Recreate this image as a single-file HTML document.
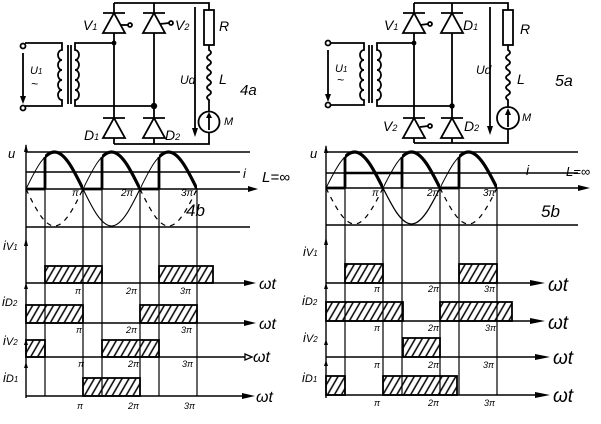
<!DOCTYPE html>
<html><head><meta charset="utf-8"><style>
html,body{margin:0;padding:0;background:#fff;}
svg{display:block;}
text{font-family:"Liberation Sans",sans-serif;font-style:italic;fill:#000;}
</style></head><body>
<svg width="601" height="424" viewBox="0 0 601 424" xmlns="http://www.w3.org/2000/svg">
<defs>
<pattern id="h" patternUnits="userSpaceOnUse" width="6" height="10" patternTransform="rotate(30)">
<line x1="1" y1="0" x2="1" y2="10" stroke="#000" stroke-width="1.5"/>
</pattern>
<clipPath id="cl"><rect x="45" y="140" width="38" height="55"/><rect x="102" y="140" width="38" height="55"/><rect x="159" y="140" width="38" height="55"/></clipPath>
<clipPath id="cr"><rect x="345" y="140" width="38" height="55"/><rect x="402" y="140" width="38" height="55"/><rect x="459" y="140" width="38" height="55"/></clipPath>
</defs>
<g fill="none" stroke="#000" stroke-width="1.8">
<!-- LEFT CIRCUIT -->
<circle cx="23" cy="46" r="2.5"/><circle cx="23" cy="108" r="2.5"/>
<path d="M25,43 L62,43 L62,50 a4,5 0 0 0 0,10 a4,5 0 0 0 0,10 a4,5 0 0 0 0,10 a4,5 0 0 0 0,10 a4,5 0 0 0 0,10 L62,106 L25,106"/>
<line x1="68" y1="45" x2="68" y2="104"/><line x1="71" y1="45" x2="71" y2="104"/>
<path d="M114,43 L75,43 L75,50 a4,5 0 0 1 0,10 a4,5 0 0 1 0,10 a4,5 0 0 1 0,10 a4,5 0 0 1 0,10 a4,5 0 0 1 0,10 L75,106 L154,106"/>
<line x1="23" y1="53" x2="23" y2="98"/>
<path d="M114,3 L209,3 L209,10"/>
<line x1="114" y1="3" x2="114" y2="144"/><line x1="154" y1="3" x2="154" y2="144"/>
<line x1="103" y1="13" x2="125" y2="13"/><line x1="143" y1="13" x2="165" y2="13"/>
<line x1="103" y1="118" x2="125" y2="118"/><line x1="143" y1="118" x2="165" y2="118"/>
<polygon points="103,33 125,33 114,13" fill="#fff"/><polygon points="143,33 165,33 154,13" fill="#fff"/>
<polygon points="103,138 125,138 114,118" fill="#fff"/><polygon points="143,138 165,138 154,118" fill="#fff"/>
<line x1="120" y1="25" x2="128" y2="25"/><circle cx="130" cy="25" r="2"/>
<line x1="160" y1="24" x2="169" y2="23"/><circle cx="171" cy="23" r="2"/>
<path d="M114,144 L209,144 L209,132.5"/>
<rect x="204" y="10" width="10" height="35"/>
<path d="M209,45 L209,50 q4,2.5 0,5 q-4,2.5 0,5 q4,2.5 0,5 q-4,2.5 0,5 q4,2.5 0,5 q-4,2.5 0,5 q4,2.5 0,5 q-4,2.5 0,5 q4,2.5 0,5 q-4,2.5 0,5 L209,111.5"/>
<circle cx="209" cy="122" r="10.5"/>
<line x1="209" y1="130" x2="209" y2="116"/>
<line x1="195" y1="7" x2="195" y2="130"/>
<!-- RIGHT CIRCUIT -->
<circle cx="328" cy="43" r="2.5"/><circle cx="328" cy="105" r="2.5"/>
<path d="M330,43 L364,43 L364,50 a4,5 0 0 0 0,10 a4,5 0 0 0 0,10 a4,5 0 0 0 0,10 a4,5 0 0 0 0,10 a4,5 0 0 0 0,10 L364,105 L330,105"/>
<line x1="369" y1="45" x2="369" y2="103"/><line x1="372" y1="45" x2="372" y2="103"/>
<path d="M414,43 L377,43 L377,50 a4,5 0 0 1 0,10 a4,5 0 0 1 0,10 a4,5 0 0 1 0,10 a4,5 0 0 1 0,10 a4,5 0 0 1 0,10 L377,106 L452,106"/>
<line x1="328" y1="50" x2="328" y2="96"/>
<path d="M414,3 L508,3 L508,10"/>
<line x1="414" y1="3" x2="414" y2="143"/><line x1="452" y1="3" x2="452" y2="143"/>
<line x1="403" y1="13" x2="425" y2="13"/><line x1="441" y1="13" x2="463" y2="13"/>
<line x1="403" y1="118" x2="425" y2="118"/><line x1="441" y1="118" x2="463" y2="118"/>
<polygon points="403,33 425,33 414,13" fill="#fff"/><polygon points="441,33 463,33 452,13" fill="#fff"/>
<polygon points="403,138 425,138 414,118" fill="#fff"/><polygon points="441,138 463,138 452,118" fill="#fff"/>
<line x1="420" y1="25" x2="428" y2="24"/><circle cx="430" cy="24" r="2"/>
<line x1="420" y1="127" x2="428" y2="126"/><circle cx="430" cy="126" r="2"/>
<path d="M414,143 L508,143 L508,129"/>
<rect x="503" y="10" width="10" height="35"/>
<path d="M508,45 L508,50 q4,2.5 0,5 q-4,2.5 0,5 q4,2.5 0,5 q-4,2.5 0,5 q4,2.5 0,5 q-4,2.5 0,5 q4,2.5 0,5 q-4,2.5 0,5 q4,2.5 0,5 q-4,2.5 0,5 L508,107"/>
<circle cx="508" cy="118" r="11"/>
<line x1="508" y1="127" x2="508" y2="112"/>
<line x1="490" y1="7" x2="490" y2="128"/>
</g>
<g fill="#000" stroke="none">
<circle cx="114" cy="43" r="2.4"/><circle cx="154" cy="106" r="3.2"/>
<circle cx="414" cy="43" r="2.4"/><circle cx="452" cy="106" r="2.7"/>
<polygon points="20,96 26,96 23,104"/><polygon points="325,94 331,94 328,102"/>
<polygon points="192,128 198,128 195,137"/><polygon points="487,126 493,126 490,135"/>
<polygon points="206,118 212,118 209,112"/><polygon points="505,115 511,115 508,108"/>
</g>
<!-- circuit labels -->
<g font-size="14">
<text x="83" y="30">V<tspan font-size="9">1</tspan></text>
<text x="175" y="30">V<tspan font-size="9">2</tspan></text>
<text x="84" y="140">D<tspan font-size="9">1</tspan></text>
<text x="165" y="140">D<tspan font-size="9">2</tspan></text>
<text x="180" y="84" font-size="12">Ud</text>
<text x="219" y="31">R</text>
<text x="219" y="84">L</text>
<text x="240" y="95" font-size="15">4a</text>
<text x="224" y="125" font-size="11">M</text>
<text x="30" y="74" font-size="11">U<tspan font-size="8">1</tspan></text>
<text x="31" y="88" font-size="12">~</text>
<text x="384" y="30">V<tspan font-size="9">1</tspan></text>
<text x="463" y="30">D<tspan font-size="9">1</tspan></text>
<text x="383" y="131">V<tspan font-size="9">2</tspan></text>
<text x="464" y="131">D<tspan font-size="9">2</tspan></text>
<text x="476" y="74" font-size="12">Ud</text>
<text x="520" y="34">R</text>
<text x="517" y="84">L</text>
<text x="555" y="86" font-size="16">5a</text>
<text x="522" y="121" font-size="11">M</text>
<text x="335" y="72" font-size="11">U<tspan font-size="8">1</tspan></text>
<text x="337" y="84" font-size="12">~</text>
</g>
<!-- WAVEFORMS LEFT -->
<g fill="none" stroke="#000" stroke-width="1.4">
<line x1="26" y1="145" x2="26" y2="398"/>
<line x1="26" y1="152" x2="250" y2="152"/>
<line x1="26" y1="172" x2="240" y2="172"/>
<line x1="26" y1="189" x2="252" y2="189"/>
<line x1="26" y1="227" x2="250" y2="227"/>
<g stroke-width="1.2">
<line x1="45" y1="189" x2="45" y2="396"/><line x1="83" y1="189" x2="83" y2="396"/>
<line x1="102" y1="189" x2="102" y2="396"/><line x1="140" y1="189" x2="140" y2="396"/>
<line x1="159" y1="189" x2="159" y2="396"/><line x1="197" y1="189" x2="197" y2="396"/>
</g>
<path stroke-width="1" d="M26,189 C35.3,170.05 44.19,152 54.5,152 C64.81,152 73.7,170.05 83,189 C92.3,170.05 101.19,152 111.5,152 C121.81,152 130.7,170.05 140,189 C149.3,170.05 158.19,152 168.5,152 C178.81,152 187.7,170.05 197,189"/>
<path stroke-width="1.1" d="M83,189 C92.3,207.95 101.19,226 111.5,226 C121.81,226 130.7,207.95 140,189"/>
<path stroke-width="1.2" stroke-dasharray="5,5" d="M26,189 C35.3,207.95 44.19,226 54.5,226 C64.81,226 73.7,207.95 83,189 M140,189 C149.3,207.95 158.19,226 168.5,226 C178.81,226 187.7,207.95 197,189"/>
<path stroke-width="3.2" clip-path="url(#cl)" d="M26,189 C35.3,170.05 44.19,152 54.5,152 C64.81,152 73.7,170.05 83,189 C92.3,170.05 101.19,152 111.5,152 C121.81,152 130.7,170.05 140,189 C149.3,170.05 158.19,152 168.5,152 C178.81,152 187.7,170.05 197,189"/>
<g stroke-width="2.8"><line x1="45" y1="189" x2="45" y2="157"/><line x1="102" y1="189" x2="102" y2="157"/><line x1="159" y1="189" x2="159" y2="157"/>
<line x1="26" y1="189" x2="45" y2="189"/><line x1="83" y1="189" x2="102" y2="189"/><line x1="140" y1="189" x2="159" y2="189"/></g>
<line x1="26" y1="283" x2="250" y2="283"/>
<line x1="26" y1="323" x2="250" y2="323"/>
<line x1="26" y1="357" x2="245" y2="357"/>
<line x1="26" y1="396" x2="248" y2="396"/>
<g fill="url(#h)" stroke-width="1.8">
<rect x="45" y="266" width="57" height="17"/><rect x="159" y="266" width="54" height="17"/>
<rect x="26" y="305" width="57" height="18"/><rect x="140" y="305" width="57" height="18"/>
<rect x="26" y="340" width="19" height="17"/><rect x="102" y="340" width="57" height="17"/>
<rect x="83" y="378" width="57" height="18"/>
</g>
<polygon points="245,354 252,357 245,360" fill="#fff" stroke-width="1.3"/>
</g>
<g fill="#000">
<polygon points="24,152 28,152 26,144"/>
<polygon points="24,246 28,246 26,238"/>
<polygon points="24,289 28,289 26,283"/>
<polygon points="24,345 28,345 26,339"/>
<polygon points="24,368 28,368 26,362"/>
<polygon points="248,186 258,189 248,192"/>
<polygon points="244,280 256,283 244,286"/>
<polygon points="244,320 256,323 244,326"/>
<polygon points="242,393 255,396 242,399"/>
</g>
<g font-size="13">
<text x="8" y="158">u</text>
<text x="243" y="178">i</text>
<text x="262" y="182" font-size="15">L=∞</text>
<text x="72" y="196" font-size="10">π</text><text x="121" y="196" font-size="10">2π</text><text x="181" y="196" font-size="10">3π</text>
<text x="186" y="216" font-size="17">4b</text>
<text x="3" y="250">i<tspan font-size="11">V</tspan><tspan font-size="8">1</tspan></text>
<text x="2" y="306">i<tspan font-size="11">D</tspan><tspan font-size="8">2</tspan></text>
<text x="3" y="345">i<tspan font-size="11">V</tspan><tspan font-size="8">2</tspan></text>
<text x="3" y="382">i<tspan font-size="11">D</tspan><tspan font-size="8">1</tspan></text>
<g font-size="9"><text x="75" y="294">π</text><text x="126" y="294">2π</text><text x="180" y="294">3π</text>
<text x="76" y="333">π</text><text x="126" y="333">2π</text><text x="181" y="333">3π</text>
<text x="78" y="367">π</text><text x="128" y="367">2π</text><text x="182" y="367">3π</text>
<text x="77" y="409">π</text><text x="128" y="409">2π</text><text x="184" y="409">3π</text></g>
<g font-size="16"><text x="259" y="289">ωt</text><text x="259" y="329">ωt</text><text x="253" y="362">ωt</text><text x="256" y="402">ωt</text></g>
</g>
<!-- WAVEFORMS RIGHT -->
<g fill="none" stroke="#000" stroke-width="1.4">
<line x1="326" y1="146" x2="326" y2="398"/>
<line x1="326" y1="152" x2="578" y2="152"/>
<line x1="326" y1="173" x2="578" y2="173"/>
<line x1="326" y1="188" x2="582" y2="188"/>
<line x1="326" y1="225" x2="578" y2="225"/>
<line x1="345" y1="173" x2="402" y2="173" stroke-width="2.4"/>
<g stroke-width="1.2">
<line x1="345" y1="188" x2="345" y2="395"/><line x1="383" y1="188" x2="383" y2="395"/>
<line x1="402" y1="188" x2="402" y2="395"/><line x1="440" y1="188" x2="440" y2="395"/>
<line x1="459" y1="188" x2="459" y2="395"/><line x1="497" y1="188" x2="497" y2="395"/>
</g>
<path stroke-width="1" d="M326,188 C335.3,169.56 344.19,152 354.5,152 C364.81,152 373.7,169.56 383,188 C392.3,169.56 401.19,152 411.5,152 C421.81,152 430.7,169.56 440,188 C449.3,169.56 458.19,152 468.5,152 C478.81,152 487.7,169.56 497,188"/>
<path stroke-width="1.3" d="M383,188 C392.3,206.44 401.19,224 411.5,224 C421.81,224 430.7,206.44 440,188"/>
<path stroke-width="1.2" stroke-dasharray="5,5" d="M326,188 C335.3,206.44 344.19,224 354.5,224 C364.81,224 373.7,206.44 383,188 M440,188 C449.3,206.44 458.19,224 468.5,224 C478.81,224 487.7,206.44 497,188"/>
<path stroke-width="3.2" clip-path="url(#cr)" d="M326,188 C335.3,169.56 344.19,152 354.5,152 C364.81,152 373.7,169.56 383,188 C392.3,169.56 401.19,152 411.5,152 C421.81,152 430.7,169.56 440,188 C449.3,169.56 458.19,152 468.5,152 C478.81,152 487.7,169.56 497,188"/>
<g stroke-width="2.8"><line x1="345" y1="188" x2="345" y2="157"/><line x1="402" y1="188" x2="402" y2="157"/><line x1="459" y1="188" x2="459" y2="157"/>
<line x1="326" y1="188" x2="345" y2="188"/><line x1="440" y1="188" x2="459" y2="188"/></g>
<line x1="326" y1="283" x2="535" y2="283"/>
<line x1="326" y1="321" x2="535" y2="321"/>
<line x1="326" y1="357" x2="540" y2="357"/>
<line x1="326" y1="395" x2="540" y2="395"/>
<g fill="url(#h)" stroke-width="1.8">
<rect x="345" y="264" width="38" height="19"/><rect x="459" y="264" width="38" height="19"/>
<rect x="326" y="302" width="77" height="19"/><rect x="440" y="302" width="72" height="19"/>
<rect x="403" y="338" width="37" height="19"/>
<rect x="326" y="376" width="19" height="19"/><rect x="383" y="376" width="74" height="19"/>
</g>
</g>
<g fill="#000">
<polygon points="324,153 328,153 326,145"/>
<polygon points="324,245 328,245 326,237"/>
<polygon points="324,289 328,289 326,283"/>
<polygon points="324,345 328,345 326,339"/>
<polygon points="324,366 328,366 326,360"/>
<polygon points="578,185 590,188 578,191"/>
<polygon points="530,280 545,283 530,286"/>
<polygon points="530,318 545,321 530,324"/>
<polygon points="535,354 550,357 535,360"/>
<polygon points="535,392 550,395 535,398"/>
</g>
<g font-size="13">
<text x="310" y="158">u</text>
<text x="526" y="175" font-size="14">i</text>
<text x="566" y="176" font-size="13">L=∞</text>
<text x="372" y="196" font-size="10">π</text><text x="427" y="196" font-size="10">2π</text><text x="483" y="196" font-size="10">3π</text>
<text x="541" y="217" font-size="17">5b</text>
<text x="303" y="256">i<tspan font-size="11">V</tspan><tspan font-size="8">1</tspan></text>
<text x="302" y="305">i<tspan font-size="11">D</tspan><tspan font-size="8">2</tspan></text>
<text x="303" y="342">i<tspan font-size="11">V</tspan><tspan font-size="8">2</tspan></text>
<text x="302" y="382">i<tspan font-size="11">D</tspan><tspan font-size="8">1</tspan></text>
<g font-size="9"><text x="374" y="292">π</text><text x="428" y="292">2π</text><text x="484" y="292">3π</text>
<text x="374" y="331">π</text><text x="428" y="331">2π</text><text x="485" y="331">3π</text>
<text x="374" y="368">π</text><text x="428" y="368">2π</text><text x="483" y="368">3π</text>
<text x="374" y="406">π</text><text x="428" y="406">2π</text><text x="484" y="406">3π</text></g>
<g font-size="19"><text x="548" y="291">ωt</text><text x="548" y="329">ωt</text><text x="553" y="364">ωt</text><text x="553" y="402">ωt</text></g>
</g>
</svg>
</body></html>
